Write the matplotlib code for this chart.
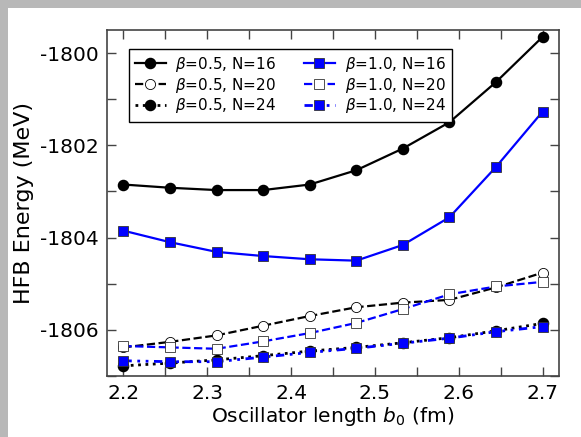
import matplotlib
matplotlib.use("Agg")
import matplotlib.pyplot as plt
from matplotlib.ticker import MultipleLocator

plt.rcParams["axes.unicode_minus"] = False

b0 = [2.2, 2.2556, 2.3111, 2.3667, 2.4222, 2.4778, 2.5333, 2.5889, 2.6444, 2.7]

e_b05_n16 = [-1802.85, -1802.92, -1802.97, -1802.97, -1802.85, -1802.54, -1802.07, -1801.50, -1800.63, -1799.65]
e_b05_n20 = [-1806.38, -1806.26, -1806.12, -1805.91, -1805.70, -1805.51, -1805.41, -1805.35, -1805.08, -1804.76]
e_b05_n24 = [-1806.78, -1806.72, -1806.65, -1806.56, -1806.46, -1806.38, -1806.28, -1806.17, -1806.02, -1805.86]
e_b10_n16 = [-1803.85, -1804.10, -1804.31, -1804.40, -1804.47, -1804.50, -1804.16, -1803.56, -1802.47, -1801.27]
e_b10_n20 = [-1806.35, -1806.38, -1806.41, -1806.25, -1806.07, -1805.85, -1805.55, -1805.23, -1805.06, -1804.96]
e_b10_n24 = [-1806.67, -1806.69, -1806.69, -1806.59, -1806.49, -1806.40, -1806.29, -1806.18, -1806.04, -1805.93]

labels = [r"$\beta$=0.5, N=16", r"$\beta$=0.5, N=20", r"$\beta$=0.5, N=24",
          r"$\beta$=1.0, N=16", r"$\beta$=1.0, N=20", r"$\beta$=1.0, N=24"]

fig = plt.figure(figsize=(5.81, 4.37), dpi=100, facecolor="#b8b8b8")
bg = fig.add_axes([8/581, 0, 1 - 8/581, 1 - 8/437], zorder=-5)
bg.set_axis_off()
bg.add_patch(plt.Rectangle((0, 0), 1, 1, transform=bg.transAxes, facecolor="white", edgecolor="none"))

ax = fig.add_axes([0.1836, 0.1396, 0.9627 - 0.1836, 0.9314 - 0.1396], zorder=1)

ms = 7.3
ax.plot(b0, e_b05_n16, color="black", ls="-", lw=1.6, marker="o", ms=ms, mfc="black", mec="black", label=labels[0])
ax.plot(b0, e_b05_n20, color="black", ls="--", lw=1.6, marker="o", ms=ms, mfc="white", mec="black", mew=0.6, label=labels[1])
ax.plot(b0, e_b05_n24, color="black", ls=":", lw=2.0, marker="o", ms=ms, mfc="black", mec="black", label=labels[2])
ax.plot(b0, e_b10_n16, color="blue", ls="-", lw=1.6, marker="s", ms=ms, mfc="blue", mec="#333333", mew=0.6, label=labels[3])
ax.plot(b0, e_b10_n20, color="blue", ls="--", lw=1.6, marker="s", ms=ms, mfc="white", mec="#333333", mew=0.6, label=labels[4])
ax.plot(b0, e_b10_n24, color="blue", ls=(0, (3, 2, 1, 2, 1, 2)), lw=2.0, marker="s", ms=ms, mfc="blue", mec="#333333", mew=0.6, label=labels[5])

ax.set_xlim(2.18, 2.72)
ax.set_ylim(-1807.0, -1799.5)
ax.xaxis.set_major_locator(MultipleLocator(0.1))
ax.xaxis.set_minor_locator(MultipleLocator(0.05))
ax.yaxis.set_major_locator(MultipleLocator(2))
ax.yaxis.set_minor_locator(MultipleLocator(1))
ax.tick_params(which="both", direction="in", top=True, right=True, length=6.5, width=1.0, color="#444444")
ax.tick_params(which="major", labelsize=14.5, pad=6)
for s in ax.spines.values():
    s.set_color("#444444")
    s.set_linewidth(1.2)

ax.set_xlabel(r"Oscillator length $b_0$ (fm)", fontsize=14.5, va="center")
ax.set_ylabel("HFB Energy (MeV)", fontsize=16, va="center")
ax.xaxis.set_label_coords(0.5, -0.116)
ax.yaxis.set_label_coords(-0.183, 0.5)

leg = ax.legend(ncol=2, loc="upper left", bbox_to_anchor=(0.049, 0.946), borderaxespad=0,
                fontsize=11, numpoints=1, handlelength=2.0, handletextpad=0.65, labelspacing=0.12,
                columnspacing=1.8, borderpad=0.4, fancybox=False, framealpha=1, edgecolor="black")
leg.get_frame().set_linewidth(1.0)

fig.savefig("out.png", dpi=100, facecolor=fig.get_facecolor())
